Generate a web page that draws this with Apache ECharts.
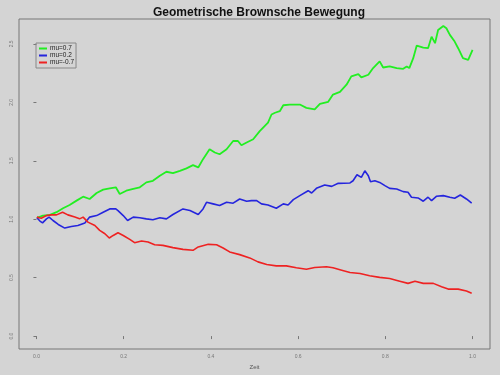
<!DOCTYPE html>
<html>
<head>
<meta charset="utf-8">
<script src="https://cdn.jsdelivr.net/npm/echarts@6/dist/echarts.min.js"></script>
<style>html,body{margin:0;padding:0;background:#d4d4d4;}#c{width:500px;height:375px;}</style>
</head>
<body>
<div id="c"></div>
<script>
var title = "Geometrische Brownsche Bewegung";
var xTicks = [0, 0.2, 0.4, 0.6, 0.8, 1.0];
var yTicks = [0, 0.5, 1.0, 1.5, 2.0, 2.5];
var names = ["mu=0.7", "mu=0.2", "mu=-0.7"];

var greenT = [0.001,0.015,0.031,0.046,0.061,0.076,0.092,0.107,0.122,0.138,0.153,0.168,0.182,0.191,0.206,0.222,0.237,0.252,0.267,0.283,0.298,0.313,0.329,0.344,0.359,0.371,0.382,0.397,0.409,0.420,0.436,0.451,0.462,0.470,0.482,0.497,0.512,0.531,0.539,0.547,0.558,0.566,0.581,0.604,0.619,0.638,0.650,0.669,0.680,0.696,0.711,0.722,0.738,0.745,0.761,0.772,0.787,0.795,0.810,0.826,0.841,0.849,0.855,0.864,0.872,0.887,0.898,0.906,0.914,0.921,0.933,0.940,0.948,0.959,0.967,0.978,0.990,1.000];
var greenV = [1.012,1.031,1.037,1.060,1.094,1.122,1.159,1.193,1.173,1.224,1.253,1.264,1.273,1.216,1.244,1.259,1.273,1.315,1.329,1.372,1.406,1.395,1.414,1.435,1.463,1.443,1.514,1.599,1.571,1.556,1.599,1.669,1.669,1.633,1.656,1.684,1.754,1.826,1.896,1.911,1.924,1.975,1.981,1.981,1.953,1.939,1.987,2.004,2.066,2.089,2.151,2.222,2.242,2.213,2.236,2.293,2.350,2.298,2.307,2.293,2.287,2.307,2.293,2.378,2.486,2.469,2.463,2.562,2.506,2.619,2.653,2.634,2.577,2.520,2.463,2.378,2.364,2.449];

var blueT = [0.001,0.008,0.014,0.023,0.029,0.038,0.050,0.065,0.080,0.095,0.111,0.122,0.138,0.153,0.168,0.182,0.187,0.199,0.209,0.222,0.237,0.252,0.267,0.283,0.298,0.313,0.336,0.352,0.371,0.382,0.390,0.405,0.420,0.436,0.451,0.466,0.482,0.493,0.505,0.516,0.531,0.550,0.566,0.577,0.589,0.604,0.623,0.631,0.642,0.661,0.677,0.692,0.719,0.726,0.735,0.745,0.753,0.761,0.766,0.776,0.787,0.799,0.810,0.826,0.841,0.852,0.860,0.875,0.887,0.898,0.906,0.917,0.933,0.948,0.959,0.972,0.986,0.998];
var blueV = [1.012,0.984,0.969,1.003,1.018,0.989,0.955,0.924,0.938,0.946,0.967,1.018,1.031,1.060,1.088,1.088,1.074,1.031,0.989,1.018,1.012,1.003,0.995,1.012,1.003,1.040,1.088,1.074,1.040,1.088,1.145,1.131,1.117,1.145,1.137,1.173,1.154,1.159,1.159,1.131,1.122,1.094,1.131,1.122,1.168,1.202,1.244,1.224,1.264,1.293,1.281,1.307,1.310,1.329,1.380,1.358,1.414,1.372,1.321,1.329,1.315,1.287,1.264,1.259,1.236,1.230,1.188,1.182,1.154,1.188,1.159,1.196,1.202,1.188,1.179,1.207,1.173,1.137];

var redT = [0.001,0.011,0.023,0.034,0.046,0.060,0.072,0.088,0.099,0.107,0.118,0.134,0.145,0.157,0.167,0.176,0.187,0.199,0.214,0.225,0.241,0.256,0.271,0.290,0.313,0.336,0.359,0.371,0.394,0.413,0.428,0.443,0.466,0.489,0.508,0.528,0.550,0.573,0.596,0.619,0.638,0.665,0.680,0.700,0.719,0.742,0.764,0.787,0.810,0.833,0.852,0.868,0.887,0.910,0.929,0.944,0.967,0.986,0.998];
var redV = [1.018,1.009,1.031,1.037,1.037,1.060,1.037,1.018,1.003,1.018,0.975,0.946,0.904,0.876,0.839,0.861,0.884,0.861,0.827,0.799,0.814,0.805,0.782,0.776,0.757,0.742,0.734,0.763,0.785,0.782,0.754,0.720,0.697,0.669,0.635,0.612,0.601,0.601,0.584,0.572,0.587,0.593,0.584,0.564,0.544,0.536,0.516,0.502,0.493,0.470,0.451,0.470,0.451,0.451,0.423,0.402,0.402,0.385,0.366];

function pairs(t, v) { return t.map(function (x, i) { return [x, v[i]]; }); }

var chart = echarts.init(document.getElementById('c'), null, {renderer: 'canvas'});
var tickLbl = {fontSize: 5, color: '#777', fontFamily: 'Liberation Sans'};
chart.setOption({
  backgroundColor: '#d4d4d4',
  animation: false,
  title: {
    text: title, left: 254, top: 2, textAlign: 'center',
    textStyle: {fontSize: 12, fontWeight: 'bold', color: '#111', fontFamily: 'Liberation Sans'}
  },
  legend: {
    orient: 'vertical', left: 36, top: 43,
    backgroundColor: 'transparent', borderColor: '#888', borderWidth: 1,
    padding: [2, 2, 2, 3], itemGap: 0, itemWidth: 8, itemHeight: 2, icon: 'rect',
    textStyle: {fontSize: 6.5, color: '#222', fontFamily: 'Liberation Sans', lineHeight: 6, padding: [0, 0, 0, -2]},
    data: names
  },
  grid: {left: 19, top: 19, right: 10, bottom: 24, show: true, borderColor: '#777', borderWidth: 1, backgroundColor: 'transparent'},
  xAxis: {
    type: 'value', min: -0.04, max: 1.04,
    name: 'Zeit', nameLocation: 'middle', nameGap: 15,
    nameTextStyle: {fontSize: 6, color: '#555', fontFamily: 'Liberation Sans'},
    axisLine: {show: false}, splitLine: {show: false},
    axisTick: {show: true, length: 3, lineStyle: {color: '#777'}, customValues: xTicks},
    axisLabel: Object.assign({margin: 5, customValues: xTicks, formatter: function (v) { return v.toFixed(1); }}, tickLbl)
  },
  yAxis: {
    type: 'value', min: -0.1105, max: 2.713,
    axisLine: {show: false}, splitLine: {show: false},
    axisTick: {show: true, length: 3, lineStyle: {color: '#777'}, customValues: yTicks},
    axisLabel: Object.assign({margin: 5, rotate: 90, customValues: yTicks, formatter: function (v) { return v.toFixed(1); }}, tickLbl)
  },
  series: [
    {name: names[0], type: 'line', data: pairs(greenT, greenV), showSymbol: false, color: '#22ee22', lineStyle: {width: 1.8, color: '#22ee22'}},
    {name: names[1], type: 'line', data: pairs(blueT, blueV), showSymbol: false, color: '#2525dd', lineStyle: {width: 1.6, color: '#2525dd'}},
    {name: names[2], type: 'line', data: pairs(redT, redV), showSymbol: false, color: '#ee2222', lineStyle: {width: 1.6, color: '#ee2222'}}
  ]
});
</script>
</body>
</html>
